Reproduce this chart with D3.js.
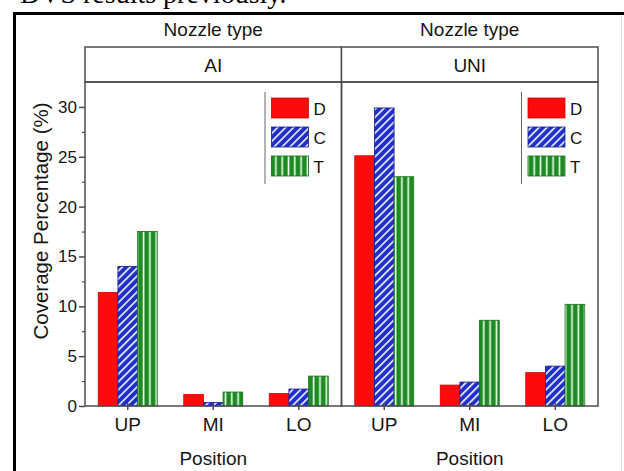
<!DOCTYPE html>
<html><head><meta charset="utf-8">
<script src="https://cdn.jsdelivr.net/npm/d3@7/dist/d3.min.js"></script>
<style>html,body{margin:0;padding:0;background:#fff;}svg{display:block;}</style>
</head><body>
<svg id="c" width="624" height="471"></svg>
<script>
const panels = ["AI", "UNI"];
const positions = ["UP", "MI", "LO"];
const series = ["D", "C", "T"];
const valuesAI = { D: [11.4, 1.15, 1.25], C: [14.0, 0.35, 1.7], T: [17.5, 1.4, 3.0] };
const valuesUNI = { D: [25.1, 2.1, 3.35], C: [29.9, 2.4, 4.0], T: [23.0, 8.6, 10.2] };
const yTicks = [0, 5, 10, 15, 20, 25, 30];
const yMinorTicks = [2.5, 7.5, 12.5, 17.5, 22.5, 27.5];
const stripTitle = "Nozzle type";
const xTitle = "Position";
const yTitle = "Coverage Percentage (%)";
const topCaption = "DVS results previously.";

const panelValues = { AI: valuesAI, UNI: valuesUNI };
const svg = d3.select("#c");
const font = "'Liberation Sans', Arial, Helvetica, sans-serif";
const axisColor = "#4d4d4d";
const textColor = "#161616";

const plotL = 85, plotR = 598, plotT = 82, plotB = 406, stripT = 47;
const y = d3.scaleLinear().domain([0, 32.5]).range([plotB, plotT]);
const panelScale = d3.scaleBand().domain(panels).range([plotL, plotR]);
const inner = d3.scaleBand().domain(series).range([-29.5, 29.5]);

// patterns
const defs = svg.append("defs");
const pc = defs.append("pattern").attr("id", "patC").attr("patternUnits", "userSpaceOnUse")
  .attr("width", 5.6).attr("height", 5.6).attr("patternTransform", "rotate(45)");
pc.append("rect").attr("width", 5.6).attr("height", 5.6).attr("fill", "#1f2fc8");
pc.append("rect").attr("x", 0).attr("width", 1.7).attr("height", 5.6).attr("fill", "#e8ecff");
const pt = defs.append("pattern").attr("id", "patT").attr("patternUnits", "userSpaceOnUse")
  .attr("width", 6.3).attr("height", 10);
pt.append("rect").attr("width", 6.3).attr("height", 10).attr("fill", "#1d8a22");
pt.append("rect").attr("x", 4.2).attr("width", 1.6).attr("height", 10).attr("fill", "#f2fff2");

const fills = { D: "#ff0a0a", C: "url(#patC)", T: "url(#patT)" };
const strokes = { D: "#d40000", C: "#1a1a9a", T: "#16701a" };

// top caption (cut off at the top edge, as in the reference)
svg.append("text").attr("x", 20).attr("y", 3).attr("font-family", "'Liberation Serif', 'Times New Roman', serif")
  .attr("font-size", 28).attr("fill", "#000").text(topCaption);

// outer frame
svg.append("line").attr("x1", 14).attr("x2", 624).attr("y1", 13.5).attr("y2", 13.5).attr("stroke", "#000").attr("stroke-width", 3);
svg.append("line").attr("x1", 14.5).attr("x2", 14.5).attr("y1", 12).attr("y2", 471).attr("stroke", "#000").attr("stroke-width", 3);
svg.append("line").attr("x1", 621.5).attr("x2", 621.5).attr("y1", 15).attr("y2", 471).attr("stroke", "#ddd").attr("stroke-width", 1);

panels.forEach(p => {
  const pl = panelScale(p), pw = panelScale.bandwidth();
  const x = d3.scaleBand().domain(positions).range([pl, pl + pw]);
  const g = svg.append("g");
  // strip
  g.append("rect").attr("x", pl).attr("y", stripT).attr("width", pw).attr("height", plotT - stripT)
    .attr("fill", "#fff").attr("stroke", axisColor).attr("stroke-width", 1.5);
  g.append("text").attr("x", pl + pw / 2).attr("y", 72).attr("text-anchor", "middle")
    .attr("font-family", font).attr("font-size", 19).attr("fill", textColor).text(p);
  g.append("text").attr("x", pl + pw / 2).attr("y", 36).attr("text-anchor", "middle")
    .attr("font-family", font).attr("font-size", 19).attr("fill", textColor).text(stripTitle);
  // bars
  const vals = panelValues[p];
  series.forEach(s => {
    g.selectAll(null).data(positions.map((pos, i) => ({ pos, v: vals[s][i] }))).join("rect")
      .attr("x", d => x(d.pos) + x.bandwidth() / 2 + inner(s))
      .attr("y", d => y(d.v))
      .attr("width", inner.bandwidth())
      .attr("height", d => y(0) - y(d.v))
      .attr("fill", fills[s]).attr("stroke", strokes[s]).attr("stroke-width", 0.8);
  });
  // panel frame
  g.append("rect").attr("x", pl).attr("y", plotT).attr("width", pw).attr("height", plotB - plotT)
    .attr("fill", "none").attr("stroke", axisColor).attr("stroke-width", 1.5);
  // x axis labels + ticks
  positions.forEach(pos => {
    const cx = x(pos) + x.bandwidth() / 2;
    g.append("line").attr("x1", cx).attr("x2", cx).attr("y1", plotB - 3).attr("y2", plotB + 4)
      .attr("stroke", axisColor).attr("stroke-width", 1.5);
    g.append("text").attr("x", cx).attr("y", 431).attr("text-anchor", "middle")
      .attr("font-family", font).attr("font-size", 19).attr("fill", textColor).text(pos);
  });
  g.append("text").attr("x", pl + pw / 2).attr("y", 465).attr("text-anchor", "middle")
    .attr("font-family", font).attr("font-size", 19).attr("fill", textColor).text(xTitle);
  // legend
  const lx = pl + pw - 70;
  g.append("line").attr("x1", lx - 6.5).attr("x2", lx - 6.5).attr("y1", 92).attr("y2", 184)
    .attr("stroke", "#666").attr("stroke-width", 1);
  series.forEach((s, i) => {
    g.append("rect").attr("x", lx).attr("y", 98 + i * 29).attr("width", 37).attr("height", 20)
      .attr("fill", fills[s]).attr("stroke", strokes[s]).attr("stroke-width", 0.8);
    g.append("text").attr("x", lx + 42).attr("y", 115 + i * 29)
      .attr("font-family", font).attr("font-size", 17).attr("fill", textColor).text(s);
  });
});

// y axis
const yAxis = d3.axisLeft(y).tickValues(yTicks).tickSize(6).tickPadding(2).tickFormat(d3.format("d"));
const ya = svg.append("g").attr("transform", `translate(${plotL},0)`).call(yAxis);
ya.select(".domain").remove();
ya.selectAll("line").attr("stroke", axisColor).attr("stroke-width", 1.5);
ya.selectAll("text").attr("font-family", font).attr("font-size", 17).attr("fill", textColor);
svg.append("g").attr("transform", `translate(${plotL},0)`)
  .call(d3.axisLeft(y).tickValues(yMinorTicks).tickSize(3).tickFormat(""))
  .call(g => g.select(".domain").remove())
  .selectAll("line").attr("stroke", axisColor).attr("stroke-width", 1.2);

svg.append("text").attr("transform", "translate(48,221) rotate(-90)").attr("text-anchor", "middle")
  .attr("font-family", font).attr("font-size", 20.5).attr("fill", textColor).text(yTitle);
</script>
</body></html>
